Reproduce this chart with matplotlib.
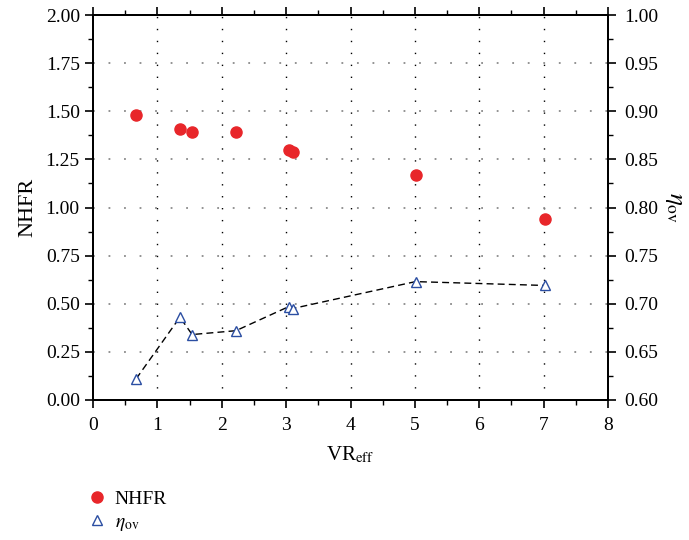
import matplotlib
matplotlib.use("Agg")
import matplotlib.pyplot as plt
from matplotlib.ticker import MultipleLocator, FormatStrFormatter
from matplotlib.lines import Line2D

plt.rcParams['font.family'] = ['Liberation Serif', 'DejaVu Serif']
plt.rcParams['mathtext.fontset'] = 'stix'

# Effective velocity ratio
vr_nhfr = [0.67, 1.35, 1.54, 2.22, 3.04, 3.10, 5.01, 7.02]
nhfr = [1.48, 1.41, 1.39, 1.39, 1.30, 1.29, 1.17, 0.94]

vr_eta = [0.67, 1.35, 1.54, 2.22, 3.04, 3.10, 5.01, 7.02]
eta_ov = [0.622, 0.686, 0.668, 0.672, 0.697, 0.695, 0.723, 0.719]

x_grid = [1, 2, 3, 4, 5, 6, 7]
y_grid = [0.25, 0.5, 0.75, 1.0, 1.25, 1.5, 1.75]

fig = plt.figure(figsize=(6.89, 5.40), dpi=100)
ax = fig.add_axes([93/689, 1-400/540, (608-93)/689, (400-15)/540])
ax2 = ax.twinx()

ax.set_xlim(0, 8)
ax.set_ylim(0, 2.0)
ax2.set_ylim(0.6, 1.0)

for v in x_grid:
    ax.axvline(v, color='black', linestyle=(0, (1, 7.6)), linewidth=1.0, zorder=0)
for v in y_grid:
    ax.axhline(v, color='#8a8a8a', linestyle=(0, (1, 7.6)), linewidth=1.3, zorder=0)

ax.plot(vr_nhfr, nhfr, 'o', color='#e8262a', markersize=8, zorder=3)
ax2.plot(vr_eta, eta_ov, color='black', linewidth=1.0, dashes=(5, 3), zorder=2)
ax2.plot(vr_eta, eta_ov, '^', markerfacecolor='white', markeredgecolor='#2b4ea2',
         markeredgewidth=1.0, markersize=7, linestyle='none', zorder=3)

ax.xaxis.set_major_locator(MultipleLocator(1))
ax.xaxis.set_minor_locator(MultipleLocator(0.5))
ax.yaxis.set_major_locator(MultipleLocator(0.25))
ax.yaxis.set_minor_locator(MultipleLocator(0.125))
ax2.yaxis.set_major_locator(MultipleLocator(0.05))
ax2.yaxis.set_minor_locator(MultipleLocator(0.025))

ax.yaxis.set_major_formatter(FormatStrFormatter('%.2f'))
ax2.yaxis.set_major_formatter(FormatStrFormatter('%.2f'))

ax.tick_params(axis='both', which='major', direction='out', length=6, width=1.2,
               labelsize=14, colors='black')
ax.tick_params(axis='both', which='minor', direction='out', length=3.5, width=1.0)
ax.tick_params(axis='x', which='both', top=True)
ax.tick_params(axis='x', which='major', pad=6)
ax2.tick_params(axis='y', which='major', direction='out', length=6, width=1.2,
                labelsize=14, pad=6)
ax2.tick_params(axis='y', which='minor', direction='out', length=3.5, width=1.0)

for a in (ax, ax2):
    for s in a.spines.values():
        s.set_linewidth(1.4)

ax.set_xlabel(r'VR$_{\mathrm{eff}}$', fontsize=15, labelpad=8)
ax.set_ylabel('NHFR', fontsize=16, labelpad=6)
ax2.set_ylabel(r'$\eta_{\mathrm{ov}}$', fontsize=18, rotation=270, labelpad=19)

handles = [
    Line2D([], [], marker='o', color='#e8262a', linestyle='none', markersize=8),
    Line2D([], [], marker='^', markerfacecolor='white', markeredgecolor='#2b4ea2',
           linestyle='none', markersize=7),
]
fig.legend(handles, ['NHFR', r'$\eta_{\mathrm{ov}}$'], loc='upper left',
           bbox_to_anchor=(68/689, 1-473/540), frameon=False, fontsize=14,
           handletextpad=0.3, labelspacing=0.25, handlelength=1.2)

fig.savefig('out.png', dpi=100)
